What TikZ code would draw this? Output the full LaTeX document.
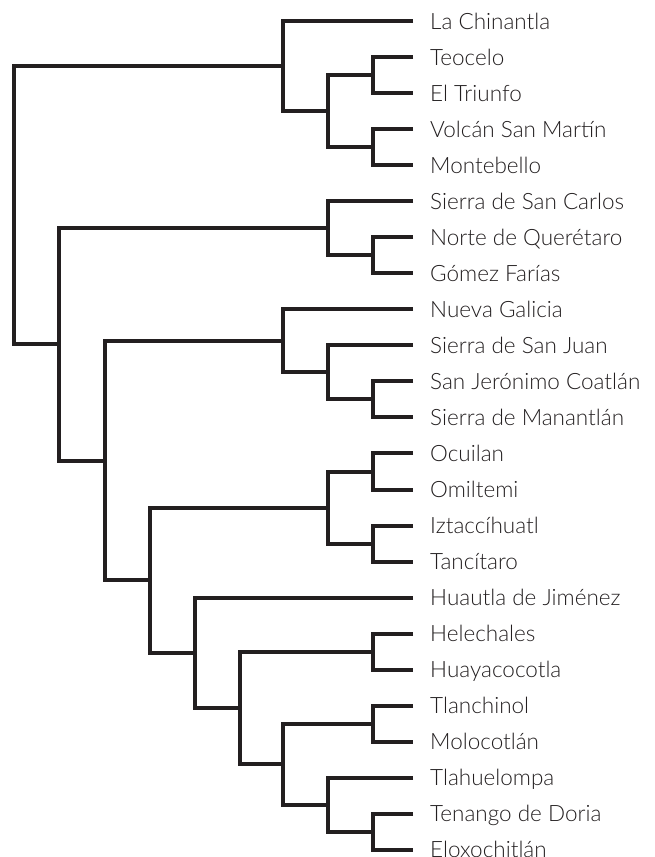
\documentclass[tikz,border=0pt]{standalone}
\usepackage{fontspec}
\setmainfont{Lato}[UprightFont=* Light]
\usetikzlibrary{calc}
\definecolor{inkblack}{HTML}{231F20}
\tikzset{
  branch/.style={draw=inkblack, line width=4pt},
  taxon/.style={anchor=west, inner xsep=17pt, inner ysep=0pt, text height=20pt, text depth=4pt,
    font=\fontsize{22.5}{24}\selectfont, text=inkblack},
}
% clade: name, x of its stem, upper child, lower child
\newcommand\joinclade[4]{%
  \path let \p1=($(#3)!.5!(#4)$), \p2=(#2,0) in coordinate (#1) at (\x2,\y1);
  \draw[branch] (#3) -| (#1) |- (#4);
}
\begin{document}
\begin{tikzpicture}[x=1pt,y=-1pt]
		\useasboundingbox (0,0) rectangle (654,857);
		% localities
		\foreach \name [count=\i] in {La Chinantla, Teocelo, El Triunfo, Volcán San Martín, Montebello,
			Sierra de San Carlos, Norte de Querétaro, Gómez Farías, Nueva Galicia, Sierra de San Juan,
			San Jerónimo Coatlán, Sierra de Manantlán, Ocuilan, Omiltemi, Iztaccíhuatl, Tancítaro,
			Huautla de Jiménez, Helechales, Huayacocotla, Tlanchinol, Molocotlán, Tlahuelompa,
			Tenango de Doria, Eloxochitlán} {
			\node[taxon] (t\i) at (413,{21+36.04*(\i-1)}) {\name};
		}
		% clades, from the tips down to the root
		\joinclade{A11}{373}{t2.west}{t3.west}
		\joinclade{A12}{373}{t4.west}{t5.west}
		\joinclade{A1}{328}{A11}{A12}
		\joinclade{A}{283}{t1.west}{A1}
		\joinclade{C1}{373}{t7.west}{t8.west}
		\joinclade{C}{328}{t6.west}{C1}
		\joinclade{E11}{373}{t11.west}{t12.west}
		\joinclade{E1}{328}{t10.west}{E11}
		\joinclade{E}{283}{t9.west}{E1}
		\joinclade{G1}{373}{t13.west}{t14.west}
		\joinclade{G2}{373}{t15.west}{t16.west}
		\joinclade{G}{328}{G1}{G2}
		\joinclade{I1}{373}{t18.west}{t19.west}
		\joinclade{J1}{373}{t20.west}{t21.west}
		\joinclade{K1}{373}{t23.west}{t24.west}
		\joinclade{K}{328}{t22.west}{K1}
		\joinclade{J}{283}{J1}{K}
		\joinclade{I}{240}{I1}{J}
		\joinclade{H}{195}{t17.west}{I}
		\joinclade{F}{150}{G}{H}
		\joinclade{D}{105}{E}{F}
		\joinclade{B}{59}{C}{D}
		\joinclade{root}{14}{A}{B}
	\end{tikzpicture}
\end{document}
